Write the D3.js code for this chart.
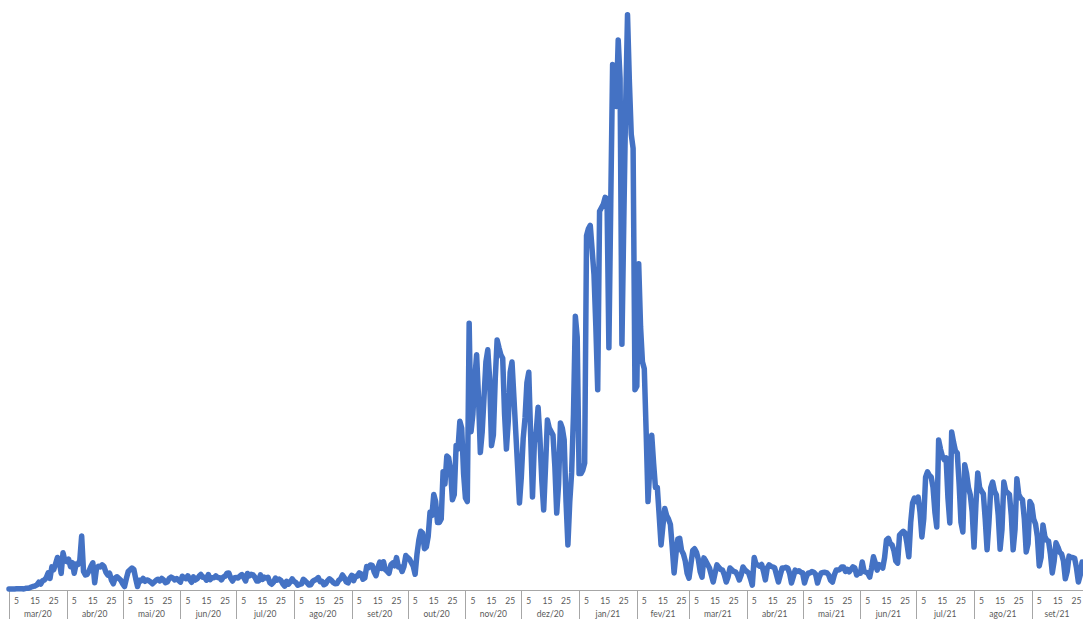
<!DOCTYPE html>
<html>
<head>
<meta charset="utf-8">
<script src="https://cdn.jsdelivr.net/npm/d3@7"></script>
<style>
    body { margin: 0; background: #fff; }
    svg { display: block; }
    .day, .month { font-family: 'Century Gothic', Lato, sans-serif; font-size: 8.5px; fill: #595959; }
</style>
</head>
<body>
<svg class="chart"></svg>
<script>
'use strict';

// daily new cases, one array per month
var mar20 = [0, 2, 2, 3, 8, 9, 9, 9, 2, 18, 19, 34, 57, 76, 86, 117, 194, 143, 235, 260, 320, 460, 302, 633, 549, 724, 902, 792, 446, 1035, 808];
var abr20 = [783, 852, 638, 754, 452, 712, 699, 815, 1516, 500, 400, 420, 520, 650, 750, 181, 600, 650, 629, 690, 640, 480, 400, 450, 250, 150, 320, 350, 300, 250];
var mai20 = [150, 70, 300, 500, 550, 600, 560, 300, 70, 250, 230, 300, 220, 260, 240, 200, 150, 200, 250, 280, 230, 300, 260, 180, 200, 300, 340, 310, 260, 300, 250];
var jun20 = [195, 366, 331, 294, 377, 270, 192, 346, 257, 294, 363, 417, 333, 335, 252, 414, 270, 324, 323, 375, 329, 322, 259, 345, 367, 451, 457, 311, 229, 325];
var jul20 = [328, 313, 374, 413, 328, 229, 443, 375, 418, 402, 334, 227, 231, 402, 272, 339, 312, 336, 181, 135, 194, 312, 255, 282, 242, 144, 80, 219, 137, 204, 288];
var ago20 = [216, 189, 106, 129, 145, 278, 231, 180, 117, 124, 219, 253, 278, 325, 209, 223, 122, 150, 239, 290, 253, 185, 151, 155, 245, 289, 401, 322, 204, 175, 310];
var set20 = [390, 241, 363, 365, 460, 429, 280, 314, 646, 613, 687, 673, 486, 380, 613, 770, 585, 780, 552, 507, 450, 691, 743, 665, 899, 632, 638, 500, 645, 957];
var out20 = [900, 850, 750, 650, 420, 1000, 1400, 1650, 1600, 1150, 1200, 1500, 2200, 2100, 2700, 2500, 1900, 1900, 2000, 3350, 3000, 3800, 3750, 3400, 2550, 2700, 4100, 4000, 4800, 4600, 3300];
var nov20 = [2600, 2500, 7600, 4500, 5000, 6000, 6700, 5500, 3900, 4500, 5500, 6500, 6840, 6000, 4100, 4400, 6000, 7120, 6900, 6700, 6600, 5000, 4000, 4800, 6200, 6490, 5500, 4500, 3500, 2460];
var dez20 = [3200, 4300, 4900, 5900, 6200, 4400, 2630, 4180, 4500, 5200, 4300, 3100, 2260, 3500, 4830, 4600, 4500, 4400, 3500, 2170, 3000, 4750, 4600, 4260, 2500, 1260, 2500, 3320, 5000, 7800, 7200];
var jan21 = [3300, 3300, 3400, 3600, 10100, 10300, 10400, 9700, 9000, 7500, 5700, 10800, 10900, 11000, 11200, 11150, 6900, 11000, 15000, 14200, 13800, 15700, 14600, 7000, 10500, 13800, 16420, 14500, 13000, 12600, 5700];
var fev21 = [5800, 9300, 7500, 6500, 6300, 4500, 2500, 3500, 4400, 3600, 2900, 2900, 2100, 1260, 1800, 2300, 2100, 2000, 1850, 1200, 460, 1000, 1430, 1450, 1100, 1000, 800, 450];
var mar21 = [310, 700, 1100, 1150, 1050, 850, 500, 340, 890, 800, 700, 600, 400, 200, 450, 690, 620, 560, 540, 400, 200, 350, 600, 550, 500, 490, 400, 260, 400, 630, 550];
var abr21 = [500, 460, 300, 110, 900, 700, 690, 650, 700, 500, 260, 600, 690, 650, 630, 600, 400, 200, 400, 600, 600, 620, 600, 450, 170, 350, 540, 500, 520, 480];
var mai21 = [460, 170, 350, 460, 460, 500, 480, 420, 170, 350, 460, 470, 480, 460, 400, 250, 200, 400, 540, 540, 560, 630, 630, 500, 560, 490, 560, 630, 600, 400, 450];
var jun21 = [450, 770, 500, 480, 450, 340, 600, 920, 750, 540, 700, 650, 600, 900, 1400, 1450, 1300, 1260, 1100, 800, 740, 1540, 1600, 1650, 1600, 1300, 920, 1900, 2460, 2600];
var jul21 = [2500, 2630, 2200, 1490, 2000, 3200, 3350, 3250, 3200, 2900, 2200, 1770, 4260, 4000, 3800, 3700, 3750, 2600, 1890, 4490, 4200, 3950, 3890, 3000, 1900, 1630, 3550, 3300, 2900, 2690, 2200];
var ago21 = [1200, 2400, 3320, 2900, 2800, 2720, 2000, 1120, 1900, 2900, 3060, 2800, 2690, 2100, 1140, 1700, 3060, 2800, 2750, 2700, 2100, 1120, 1700, 3150, 2700, 2600, 2550, 2000, 1060, 1300, 2500];
var set21 = [2400, 2000, 1860, 1500, 660, 900, 1830, 1500, 1400, 1370, 1000, 460, 800, 1320, 1200, 1050, 1000, 800, 290, 500, 940, 900, 900, 880, 600, 200, 400, 770];

var months = [mar20, abr20, mai20, jun20, jul20, ago20, set20, out20, nov20, dez20,
              jan21, fev21, mar21, abr21, mai21, jun21, jul21, ago21, set21];
var monthLabels = ['mar/20', 'abr/20', 'mai/20', 'jun/20', 'jul/20', 'ago/20', 'set/20', 'out/20', 'nov/20', 'dez/20',
                   'jan/21', 'fev/21', 'mar/21', 'abr/21', 'mai/21', 'jun/21', 'jul/21', 'ago/21', 'set/21'];
var dayTicks = [5, 15, 25];

// setup the dimensions we'll be working with
var width = 1083, height = 619;
var axisY = 590;

var svg = d3.select('.chart')
    .attr('width', width)
    .attr('height', height);

// flatten the months into one daily series
var series = [];
months.forEach(function (vals, mi) {
    vals.forEach(function (v, di) {
        series.push({ date: new Date(Date.UTC(2020, 2 + mi, di + 1)), value: v });
    });
});
var lastDate = series[series.length - 1].date;

// one day is ~1.863px, the plot runs past the right edge of the picture
var x = d3.scaleUtc()
    .domain([new Date(Date.UTC(2020, 2, 1)), new Date(Date.UTC(2021, 9, 1))])
    .range([9, 9 + 579 * 1.863]);

var y = d3.scaleLinear()
    .domain([0, 16500])
    .range([589, 12]);

// category axis: base line, month separators, day and month labels
var axis = svg.append('g').attr('class', 'axis');

axis.append('line')
    .attr('x1', 9).attr('x2', width)
    .attr('y1', axisY + 0.5).attr('y2', axisY + 0.5)
    .attr('stroke', '#a6a6a6');

var monthStarts = monthLabels.map(function (m, i) { return new Date(Date.UTC(2020, 2 + i, 1)); });

axis.selectAll('.sep').data(monthStarts)
    .enter().append('line')
    .attr('class', 'sep')
    .attr('x1', function (d) { return Math.round(x(d)) + 0.5; })
    .attr('x2', function (d) { return Math.round(x(d)) + 0.5; })
    .attr('y1', axisY).attr('y2', height)
    .attr('stroke', '#a6a6a6');

var dayData = [];
monthStarts.forEach(function (m) {
    dayTicks.forEach(function (day) {
        var dt = new Date(Date.UTC(m.getUTCFullYear(), m.getUTCMonth(), day));
        if (dt <= lastDate) dayData.push({ date: dt, day: day });
    });
});

axis.selectAll('.day').data(dayData)
    .enter().append('text')
    .attr('class', 'day')
    .attr('x', function (d) { return x(d.date); })
    .attr('y', 603.5)
    .attr('text-anchor', 'middle')
    .text(function (d) { return d.day; });

// month names sit at the very bottom edge, centred on the days shown
axis.selectAll('.month').data(monthLabels)
    .enter().append('text')
    .attr('class', 'month')
    .attr('x', function (d, i) {
        var start = x(monthStarts[i]);
        var next = new Date(Date.UTC(2020, 3 + i, 1));
        var end = Math.min(x(next), x(lastDate));
        return (start + end) / 2;
    })
    .attr('y', 617)
    .attr('text-anchor', 'middle')
    .text(function (d) { return d; });

// the daily line itself
var line = d3.line()
    .x(function (d) { return x(d.date); })
    .y(function (d) { return y(d.value); });

svg.append('path')
    .datum(series)
    .attr('d', line)
    .attr('fill', 'none')
    .attr('stroke', '#4472c4')
    .attr('stroke-width', 5.5)
    .attr('stroke-linejoin', 'round')
    .attr('stroke-linecap', 'round');
</script>
</body>
</html>
